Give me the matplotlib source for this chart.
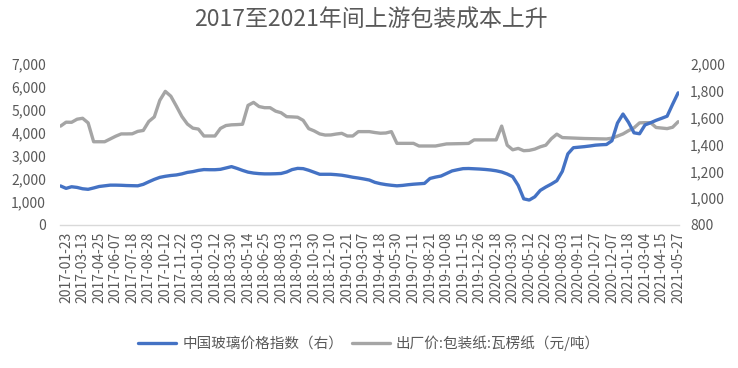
import numpy as np
import matplotlib
matplotlib.use("Agg")
import matplotlib.pyplot as plt
from matplotlib.ticker import FuncFormatter, MultipleLocator

plt.rcParams['font.family'] = ['Noto Sans CJK SC', 'DejaVu Sans']

title = "2017至2021年间上游包装成本上升"
series_glass_name = "中国玻璃价格指数（右）"
series_paper_name = "出厂价:包装纸:瓦楞纸（元/吨）"

tick_labels = [
    "2017-01-23", "2017-03-13", "2017-04-25", "2017-06-07", "2017-07-18", "2017-08-28",
    "2017-10-12", "2017-11-22", "2018-01-03", "2018-02-12", "2018-03-30", "2018-05-14",
    "2018-06-25", "2018-08-03", "2018-09-13", "2018-10-30", "2018-12-10", "2019-01-21",
    "2019-03-07", "2019-04-18", "2019-05-30", "2019-07-11", "2019-08-21", "2019-10-08",
    "2019-11-15", "2019-12-26", "2020-02-18", "2020-03-30", "2020-05-12", "2020-06-22",
    "2020-08-03", "2020-09-11", "2020-10-27", "2020-12-07", "2021-01-18", "2021-03-04",
    "2021-04-15", "2021-05-27",
]

# corrugated paper price (left axis), sampled every 10 trading days
paper = [
    4300, 4470, 4465, 4600, 4640, 4440, 3620, 3620, 3620, 3740,
    3860, 3960, 3960, 3965, 4070, 4110, 4500, 4700, 5420, 5810,
    5600, 5170, 4720, 4390, 4210, 4170, 3870, 3870, 3870, 4200,
    4325, 4355, 4365, 4380, 5200, 5330, 5150, 5100, 5100, 4950,
    4880, 4710, 4700, 4685, 4550, 4190, 4090, 3960, 3910, 3915,
    3955, 3985, 3870, 3870, 4060, 4060, 4060, 4020, 3990, 4000,
    4060, 3550, 3550, 3550, 3550, 3435, 3435, 3435, 3435, 3480,
    3525, 3530, 3535, 3540, 3547, 3700, 3700, 3700, 3700, 3700,
    4300, 3470, 3270, 3330, 3230, 3245, 3300, 3400, 3470, 3750,
    3950, 3800, 3790, 3780, 3770, 3760, 3755, 3750, 3745, 3740,
    3775, 3865, 3960, 4100, 4225, 4440, 4450, 4450, 4240, 4215,
    4190, 4250, 4490,
]

# China glass price index (right axis), sampled every 10 trading days
glass = [
    1091, 1073, 1085, 1080, 1070, 1066, 1076, 1087, 1092, 1097,
    1097, 1096, 1094, 1093, 1092, 1103, 1122, 1140, 1155, 1163,
    1169, 1173, 1181, 1192, 1198, 1207, 1213, 1212, 1212, 1215,
    1225, 1235, 1222, 1207, 1194, 1187, 1183, 1181, 1181, 1182,
    1184, 1195, 1213, 1222, 1220, 1208, 1193, 1178, 1178, 1178,
    1175, 1171, 1164, 1156, 1150, 1143, 1135, 1118, 1108, 1101,
    1096, 1092, 1095, 1100, 1104, 1107, 1110, 1147, 1157, 1165,
    1184, 1203, 1212, 1220, 1221, 1219, 1217, 1214, 1210, 1204,
    1195, 1180, 1160, 1095, 995, 986, 1010, 1058, 1083, 1105,
    1130, 1200, 1330, 1376, 1380, 1384, 1389, 1395, 1398, 1400,
    1428, 1560, 1627, 1565, 1487, 1480, 1546, 1562, 1580, 1595,
    1611, 1700, 1785,
]

step = 10          # trading days between samples
label_every = 30   # trading days between tick labels
start = -10        # first sample, in trading days relative to first label

x = start + step * np.arange(len(paper))
tick_pos = label_every * np.arange(len(tick_labels))

blue = "#4472C4"
grey = "#A5A5A5"
txt = "#595959"

fig = plt.figure(figsize=(7.38, 3.68), dpi=100)
ax = fig.add_axes([0.0813, 0.3886, 0.8387, 0.4375])
ax2 = ax.twinx()

l2, = ax.plot(x, paper, color=grey, lw=2.4, solid_capstyle='round', zorder=2)
l1, = ax2.plot(x, glass, color=blue, lw=2.4, solid_capstyle='round', zorder=3)

ax.set_xlim(-11, 1111.5)
ax.set_ylim(0, 7000)
ax2.set_ylim(800, 2000)
ax.yaxis.set_major_locator(MultipleLocator(1000))
ax2.yaxis.set_major_locator(MultipleLocator(200))
fmt = FuncFormatter(lambda v, p: f"{int(v):,}")
ax.yaxis.set_major_formatter(fmt)
ax2.yaxis.set_major_formatter(fmt)

ax.set_xticks(tick_pos)
ax.set_xticklabels(tick_labels, rotation=90, fontsize=10, color=txt)

for a in (ax, ax2):
    for s in a.spines.values():
        s.set_visible(False)
    a.tick_params(length=0)
ax.spines['bottom'].set_visible(True)
ax.spines['bottom'].set_color("#D9D9D9")
ax.spines['bottom'].set_linewidth(1.0)

ax.tick_params(axis='y', labelsize=10, labelcolor=txt, pad=10)
ax2.tick_params(axis='y', labelsize=10, labelcolor=txt, pad=8)
ax.tick_params(axis='x', pad=5)

fig.text(0.502, 0.945, title, ha='center', va='center', fontsize=16.5, color=txt)

fig.legend([l1, l2], [series_glass_name, series_paper_name],
           loc='center', bbox_to_anchor=(0.5, 0.068), ncol=2, frameon=False,
           fontsize=10.5, labelcolor=txt, handlelength=2.6, handletextpad=0.4,
           columnspacing=0.6)

fig.savefig("out.png", dpi=100)
